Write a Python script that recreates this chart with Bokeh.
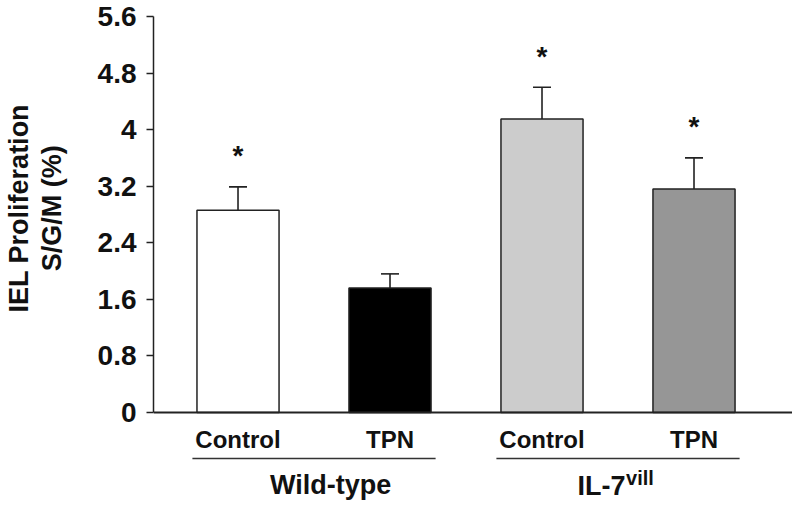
import math
from bokeh.plotting import figure
from bokeh.layouts import row
from bokeh.models import ColumnDataSource, Range1d, FixedTicker, Whisker, TeeHead, Span
from bokeh.core.properties import value
from bokeh.embed import file_html
from bokeh.resources import INLINE

# ---- data ----
categories = ["Control", "TPN", "Control", "TPN"]
groups = ["Wild-type", "IL-7"]
group_sup = ["", "vill"]
means = [2.86, 1.76, 4.15, 3.16]
errors = [0.33, 0.20, 0.45, 0.44]
significant = [True, False, True, True]
bar_colors = ["#ffffff", "#000000", "#cccccc", "#969696"]
y_ticks = [0, 0.8, 1.6, 2.4, 3.2, 4.0, 4.8, 5.6]
y_tick_labels = ["0", "0.8", "1.6", "2.4", "3.2", "4", "4.8", "5.6"]
y_title = ["IEL Proliferation", "S/G/M (%)"]

FONT = "Liberation Sans"
INK = "#111111"
positions = [1, 2, 3, 4]
group_centers = [1.5, 3.5]
H = 500
TXT_SHIFT = -8  # screen px correction for text baseline

# ---- y-axis title panel ----
t = figure(width=80, height=H, output_backend="svg", toolbar_location=None,
           x_range=Range1d(0, 80), y_range=Range1d(H, 0),
           x_axis_location=None, y_axis_location=None,
           min_border_left=0, min_border_right=0, min_border_top=0, min_border_bottom=0)
t.outline_line_color = None
t.grid.visible = False
t.text(x=[18, 51], y=[198, 198], text=y_title, angle=math.pi / 2, text_align="center",
       text_baseline="middle", text_font=value(FONT), text_font_style="bold",
       text_font_size="27px", text_color=INK)

# ---- main chart ----
p = figure(width=712, height=H, output_backend="svg", toolbar_location=None,
           x_range=Range1d(0.444, 4.648), y_range=Range1d(-1.245, 5.6),
           x_axis_location=None, y_axis_location="left",
           min_border_left=73, min_border_right=0, min_border_top=16, min_border_bottom=0)
p.outline_line_color = None
p.grid.visible = False
p.background_fill_color = "white"
p.border_fill_color = "white"

src = ColumnDataSource(dict(x=positions, mean=means, upper=[m + e for m, e in zip(means, errors)],
                            color=bar_colors, cat=categories))

p.vbar(x="x", top="mean", bottom=0, width=0.54, source=src, fill_color="color",
       line_color="#222222", line_width=1.5)

w = Whisker(base="x", upper="upper", lower="mean", source=src,
            upper_head=TeeHead(size=18, line_width=1.6, line_color="#222222"), lower_head=None,
            line_width=1.6, line_color="#222222")
p.add_layout(w)

# baseline
p.add_layout(Span(location=0, dimension="width", line_color="#222222", line_width=2))

# stars
sx = [x for x, s in zip(positions, significant) if s]
sy = [m + e for m, e, s in zip(means, errors, significant) if s]
p.text(x=sx, y=sy, text=["*"] * len(sx), y_offset=-31, text_align="center",
       text_baseline="alphabetic", text_font=value(FONT), text_font_style="bold",
       text_font_size="28px", text_color=INK)

# category labels
p.text(x=positions, y=[-0.495] * 4, text=categories, text_align="center", y_offset=TXT_SHIFT,
       text_baseline="alphabetic", text_font=value(FONT), text_font_style="bold",
       text_font_size="24px", text_color=INK)

# group lines
p.segment(x0=[c - 0.8 for c in group_centers], x1=[c + 0.8 for c in group_centers],
          y0=[-0.65] * 2, y1=[-0.65] * 2, line_color="#333333", line_width=1.5)

# group labels
p.text(x=[1.61], y=[-1.146], text=[groups[0]], text_align="center", y_offset=TXT_SHIFT,
       text_baseline="alphabetic", text_font=value(FONT), text_font_style="bold",
       text_font_size="27px", text_color=INK)
p.text(x=[3.549], y=[-1.16], text=[groups[1]], text_align="right", y_offset=TXT_SHIFT,
       text_baseline="alphabetic", text_font=value(FONT), text_font_style="bold",
       text_font_size="27px", text_color=INK)
p.text(x=[3.553], y=[-1.033], text=[group_sup[1]], text_align="left", y_offset=TXT_SHIFT,
       text_baseline="alphabetic", text_font=value(FONT), text_font_style="bold",
       text_font_size="20px", text_color=INK)

# y axis
ya = p.yaxis[0]
ya.bounds = (0, 5.6)
ya.ticker = FixedTicker(ticks=y_ticks)
ya.major_label_overrides = {t_: l for t_, l in zip(y_ticks, y_tick_labels)}
ya.minor_tick_line_color = None
ya.major_tick_in = 0
ya.major_tick_out = 7
ya.major_tick_line_width = 1.5
ya.major_tick_line_color = "#222222"
ya.axis_line_width = 1.5
ya.axis_line_color = "#222222"
ya.major_label_text_font = FONT
ya.major_label_text_font_style = "bold"
ya.major_label_text_font_size = "28px"
ya.major_label_text_color = INK
ya.major_label_standoff = 10

layout = row(t, p, spacing=0)
open("out.html", "w").write(file_html(layout, INLINE))
